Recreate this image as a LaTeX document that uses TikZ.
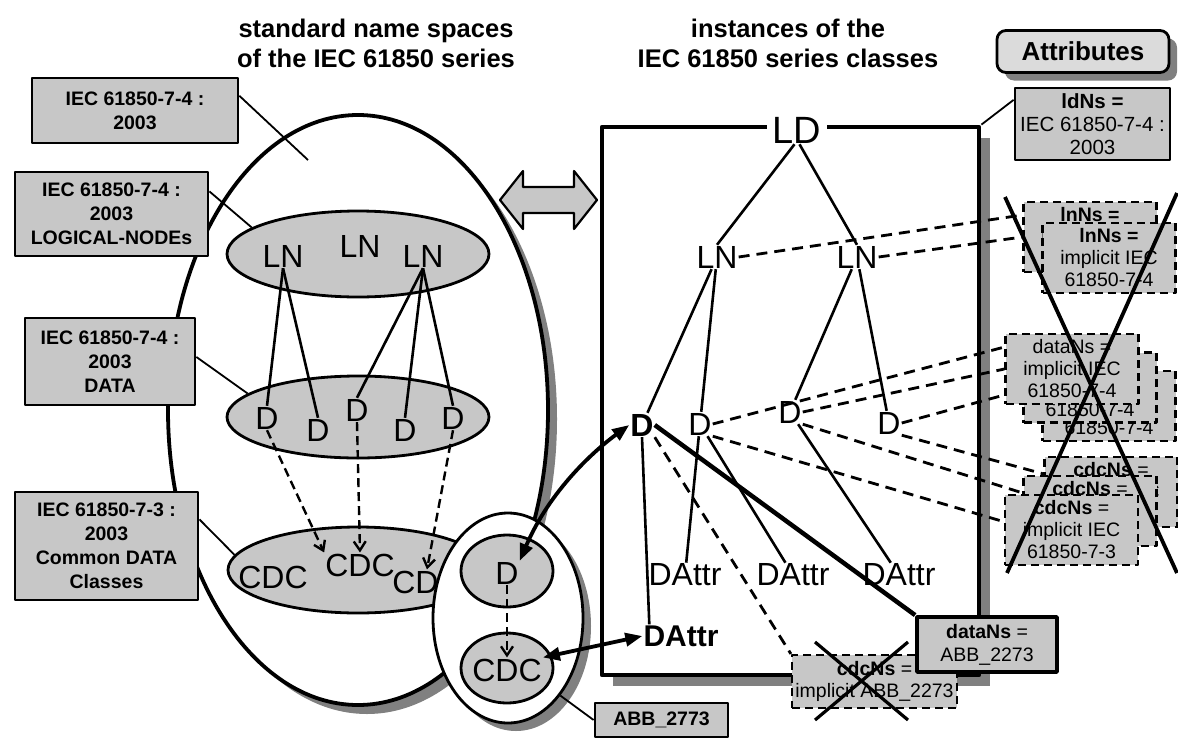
\documentclass[tikz,border=0pt]{standalone}
\usepackage{fontspec}
\setmainfont{Liberation Sans}
\usetikzlibrary{arrows.meta,shapes.geometric,shadows,positioning}
\definecolor{boxgray}{gray}{0.78}
\definecolor{attrgray}{gray}{0.86}
\definecolor{shadegray}{gray}{0.5}
\tikzset{
  shd/.style={drop shadow={shadow xshift=#1,shadow yshift=-#1,fill=shadegray,opacity=1}},
  shd/.default=8pt,
  lbl/.style={draw,line width=2.8pt,fill=boxgray,align=center,inner sep=0pt,font=\bfseries\fontsize{19.5}{24}\selectfont},
  nsbox/.style={draw,line width=2.2pt,dash pattern=on 8pt off 5pt,fill=boxgray,align=center,inner sep=0pt,minimum width=133pt,minimum height=70pt,font=\fontsize{19.5}{22}\selectfont},
  nsset/.style={ellipse,draw,line width=2.8pt,fill=boxgray,inner sep=0pt},
  tn/.style={inner sep=1pt,font=\fontsize{32}{34}\selectfont},
  edge/.style={line width=2.6pt},
  darr/.style={line width=2.4pt,dash pattern=on 9pt off 5pt,-{Straight Barb[length=9pt,width=12pt]}},
  nsedge/.style={line width=2.8pt,dash pattern=on 11pt off 7pt},
  leader/.style={line width=1.8pt},
  bidir/.style={line width=3.8pt,{Triangle[length=17pt,width=13pt]}-{Triangle[length=17pt,width=13pt]}}
}
\begin{document}
\begin{tikzpicture}[x=1pt,y=-1pt,line join=round]
\useasboundingbox (0,0) rectangle (1178,737);
% titles
\node[align=center,font=\bfseries\fontsize{25.5}{30}\selectfont] (ttlstd) at (376,43) {standard name spaces\\of the IEC 61850 series};
\node[align=center,font=\bfseries\fontsize{25.5}{30}\selectfont] (ttlinst) at (788,43) {instances of the\\IEC 61850 series classes};
% standard name spaces
\node[ellipse,draw,line width=3.8pt,fill=white,shd=9pt,minimum width=380pt,minimum height=590pt] (std) at (358,410) {};
\node[nsset,minimum width=262pt,minimum height=86pt] (lnset) at (358,254) {};
\node[nsset,minimum width=262pt,minimum height=82pt] (dset) at (358,417) {};
\node[nsset,minimum width=260pt,minimum height=86pt] (cdcset) at (358,570) {};
\foreach \n/\x/\y in {lnA/283/256,lnB/360/246,lnC/423/256}\node[tn] (\n) at (\x,\y) {LN};
\foreach \n/\x/\y in {dA/267/418,dB/318/430,dC/357/410,dD/405/430,dE/453/418}\node[tn] (\n) at (\x,\y) {D};
\foreach \n/\x/\y in {cdcA/273/577,cdcB/360/565,cdcC/427/582}\node[tn] (\n) at (\x,\y) {CDC};
\foreach \a/\b in {lnA/dA,lnA/dB,lnC/dC,lnC/dD,lnC/dE}\draw[edge] (\a.south) -- (\b.north);
\foreach \a/\b in {dA/cdcB.north west,dC/cdcB.north,dE/cdcC.north}\draw[darr] (\a.south) -- (\b);
\node[lbl,minimum width=206pt,minimum height=65pt] (b74) at (135,110.5) {IEC 61850-7-4 :\\2003};
\node[lbl,minimum width=193pt,minimum height=84pt] (b74ln) at (111.5,214) {IEC 61850-7-4 :\\2003\\LOGICAL-NODEs};
\node[lbl,minimum width=170pt,minimum height=87pt] (b74d) at (110,361.5) {IEC 61850-7-4 :\\2003\\DATA};
\node[lbl,minimum width=183pt,minimum height=108pt] (b73) at (106.5,546) {IEC 61850-7-3 :\\2003\\Common DATA\\Classes};
\coordinate (inA) at (308,160);
\draw[leader] (b74.8) -- (inA);
\draw[leader] (b74ln.13) -- (lnset.166);
\draw[leader] (b74d.3) -- (dset.168);
\draw[leader] (b73.16) -- (cdcset.173);
% swap arrow
\draw[line width=2.2pt,fill=boxgray] (500,200) -- (523,171) -- (523,187) -- (574,187) -- (574,171) -- (597,200)
  -- (574,229) -- (574,213) -- (523,213) -- (523,229) -- cycle;
% instances
\node[draw,line width=4.8pt,fill=white,shd=11pt,minimum width=377pt,minimum height=548pt,inner sep=0pt] (inst) at (790.5,401) {};
\node[tn,fill=white,inner xsep=6pt,font=\fontsize{38}{40}\selectfont] (ldT) at (797,130) {LD};
\node[tn] (lnL) at (717,257) {LN};
\node[tn] (lnR) at (857,257) {LN};
\node[tn,font=\bfseries\fontsize{32}{34}\selectfont] (dT1) at (642,425) {D};
\foreach \n/\x/\y in {dT2/700/424,dT3/790/412,dT4/889/423}\node[tn] (\n) at (\x,\y) {D};
\foreach \n/\x in {daT1/685,daT2/793,daT3/899}\node[tn] (\n) at (\x,575) {DAttr};
\node[tn,font=\bfseries\fontsize{30}{34}\selectfont] (dab) at (681,636) {DAttr};
\draw[edge] (ldT.-100) -- (lnL.north);
\draw[edge] (ldT.-80) -- (lnR.north);
\foreach \a/\b in {lnL/dT1,lnL/dT2,lnR/dT3,lnR/dT4,dT2/daT1,dT2/daT2,dT3/daT3}\draw[edge] (\a) -- (\b);
\draw[edge] (dT1.south) -- ([xshift=7pt]dab.north west);
% attributes
\node[draw,line width=2.8pt,rounded corners=9pt,fill=attrgray,shd=8pt,minimum width=172pt,minimum height=42pt,font=\bfseries\fontsize{26}{28}\selectfont] (attr) at (1083,51.5) {Attributes};
\node[draw,line width=2.8pt,fill=boxgray,align=center,inner sep=0pt,minimum width=155pt,minimum height=72pt,font=\fontsize{20.5}{23}\selectfont] (ldns) at (1092.5,124) {\textbf{ldNs =}\\IEC 61850-7-4 :\\2003};
\draw[leader] (inst.north east) -- (ldns.163);
\node[nsbox] (lnb) at (1090,237) {\textbf{lnNs =}\\implicit IEC\\61850-7-4};
\node[nsbox] (lnf) at (1109,258) {\textbf{lnNs =}\\implicit IEC\\61850-7-4};
\foreach \n/\x/\y in {dnb/1109/406,dnm/1090/387.5,dnf/1072/369}\node[nsbox] (\n) at (\x,\y) {dataNs =\\implicit IEC\\61850-7-4};
\foreach \n/\x/\y in {cnb/1111/492,cnm/1090/511,cnf/1071.5/530}\node[nsbox] (\n) at (\x,\y) {\textbf{cdcNs} =\\implicit IEC\\61850-7-3};
\foreach \a/\b in {lnL.east/lnb.162,lnR.east/lnb.west,dT2.east/dnf.162,dT3.east/dnf.west,dT4.east/dnf.201,
  dT4.south east/cnb.165,dT3.south east/cnm.165,dT2.south east/cnf.173}\draw[nsedge] (\a) -- (\b);
\draw[line width=3.8pt] (1005,197) -- (1177,573) (1177,193) -- (1007,573);
% ABB_2273
\node[nsbox,minimum width=165pt,minimum height=53pt] (cabb) at (874.5,681.5) {\textbf{cdcNs} =\\implicit ABB\_2273};
\node[draw,line width=3.8pt,fill=boxgray,align=center,inner sep=0pt,minimum width=140pt,minimum height=55pt,font=\fontsize{19.5}{23}\selectfont] (dabb) at (987,644.5) {\textbf{dataNs} =\\ABB\_2273};
\draw[nsedge] (dT1.south east) -- (cabb.north west);
\draw[line width=4.5pt] (dT1.east) -- (dabb.north west);
\draw[line width=3.2pt] (815,642) -- (908,720) (908,642) -- (815,720);
% ABB_2773
\node[ellipse,draw,line width=2.8pt,fill=white,shd=8pt,minimum width=150pt,minimum height=210pt,inner sep=0pt] (abbset) at (508,618) {};
\node[nsset,minimum width=92pt,minimum height=72pt] (sdset) at (507,571) {};
\node[nsset,minimum width=92pt,minimum height=70pt] (scset) at (507,668) {};
\node[tn] (sd) at (507,573) {D};
\node[tn] (scdc) at (507,670) {CDC};
\draw[darr] (sd) -- (scdc);
\node[lbl,minimum width=133pt,minimum height=34pt] (abbbox) at (661.5,720) {ABB\_2773};
\draw[leader] (abbset.-56) -- (abbbox.west);
\draw[bidir] (sd.north east) .. controls (550,490) and (595,450) .. (dT1.west);
\draw[bidir] (scdc.north east) -- (dab.west);
\end{tikzpicture}
\end{document}
